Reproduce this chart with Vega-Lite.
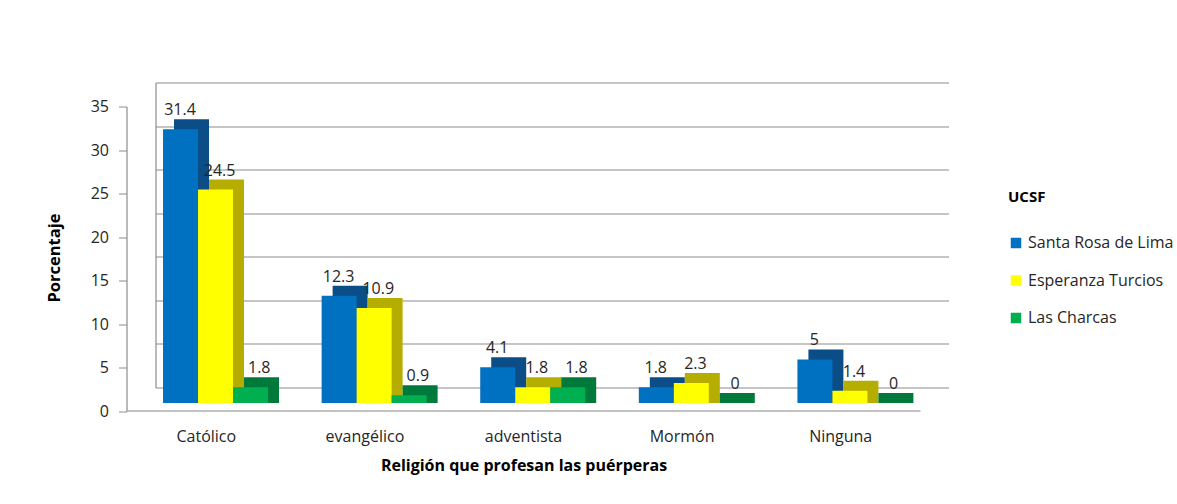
{
  "$schema": "https://vega.github.io/schema/vega-lite/v6.json",
  "width": 793,
  "height": 305,
  "autosize": {"type": "none"},
  "padding": {"left": 127, "top": 54, "right": 257, "bottom": 145},
  "background": "white",
  "config": {"view": {"stroke": null}, "font": "Open Sans"},
  "data": {
    "values": [
      {"religion": "Católico", "ucsf": "Santa Rosa de Lima", "pct": 31.4},
      {"religion": "Católico", "ucsf": "Esperanza Turcios", "pct": 24.5},
      {"religion": "Católico", "ucsf": "Las Charcas", "pct": 1.8},
      {"religion": "evangélico", "ucsf": "Santa Rosa de Lima", "pct": 12.3},
      {"religion": "evangélico", "ucsf": "Esperanza Turcios", "pct": 10.9},
      {"religion": "evangélico", "ucsf": "Las Charcas", "pct": 0.9},
      {"religion": "adventista", "ucsf": "Santa Rosa de Lima", "pct": 4.1},
      {"religion": "adventista", "ucsf": "Esperanza Turcios", "pct": 1.8},
      {"religion": "adventista", "ucsf": "Las Charcas", "pct": 1.8},
      {"religion": "Mormón", "ucsf": "Santa Rosa de Lima", "pct": 1.8},
      {"religion": "Mormón", "ucsf": "Esperanza Turcios", "pct": 2.3},
      {"religion": "Mormón", "ucsf": "Las Charcas", "pct": 0},
      {"religion": "Ninguna", "ucsf": "Santa Rosa de Lima", "pct": 5},
      {"religion": "Ninguna", "ucsf": "Esperanza Turcios", "pct": 1.4},
      {"religion": "Ninguna", "ucsf": "Las Charcas", "pct": 0}
    ]
  },
  "encoding": {
    "x": {"field": "religion", "type": "nominal", "sort": ["Católico", "evangélico", "adventista", "Mormón", "Ninguna"], "scale": {"paddingInner": 0, "paddingOuter": 0},
      "axis": {"orient": "bottom", "offset": 51.5, "translate": 0.5, "domainColor": "#868686", "ticks": false, "labelFontSize": 16, "labelColor": "#262626", "labelPadding": 18, "labelAngle": 0, "title": "Religión que profesan las puérperas", "titleFontSize": 16, "titleFontWeight": "bold", "titleColor": "#000000", "titlePadding": 13}},
    "y": {"field": "pct", "type": "quantitative", "scale": {"domain": [0, 35]}, "axis": null}
  },
  "layer": [
    {
      "mark": {"type": "bar", "yOffset": 34, "y2Offset": 44},
      "encoding": {
        "xOffset": {"field": "ucsf", "type": "nominal", "sort": ["Santa Rosa de Lima", "Esperanza Turcios", "Las Charcas"], "scale": {"paddingInner": 0, "paddingOuter": 0.766, "align": 0.877}},
        "color": {"field": "ucsf", "type": "nominal", "scale": {"domain": ["Santa Rosa de Lima", "Esperanza Turcios", "Las Charcas"], "range": ["#0b4d86", "#b5ae00", "#007a3a"]}, "legend": null},
        "y": {"field": "pct", "type": "quantitative", "scale": {"domain": [0, 35]},
          "axis": {"orient": "right", "offset": -793, "translate": 29, "grid": true, "gridColor": "#8c8c8c", "gridWidth": 1.2, "labels": false, "ticks": false, "domain": true, "domainColor": "#8c8c8c", "domainWidth": 1.2, "title": null, "values": [0, 5, 10, 15, 20, 25, 30, 35]}},
        "y2": {"datum": 0}
      }
    },
    {
      "mark": {"type": "bar", "yOffset": 44, "y2Offset": 44},
      "encoding": {
        "xOffset": {"field": "ucsf", "type": "nominal", "sort": ["Santa Rosa de Lima", "Esperanza Turcios", "Las Charcas"], "scale": {"paddingInner": 0, "paddingOuter": 0.766, "align": 0.672}},
        "color": {"field": "ucsf", "type": "nominal", "sort": ["Santa Rosa de Lima", "Esperanza Turcios", "Las Charcas"], "scale": {"domain": ["Santa Rosa de Lima", "Esperanza Turcios", "Las Charcas"], "range": ["#0070C0", "#FFFF00", "#00B050"]},
          "legend": {"title": "UCSF", "orient": "none", "legendX": 881, "legendY": 136, "symbolType": "square", "symbolSize": 110, "symbolStrokeWidth": 0, "labelFontSize": 16, "titleFontSize": 15, "titleFontWeight": "bold", "rowPadding": 21.5, "titlePadding": 30, "labelColor": "#262626", "titleColor": "#000000", "labelOffset": 4}},
        "y": {"field": "pct", "type": "quantitative", "scale": {"domain": [0, 35]},
          "axis": {"orient": "left", "offset": 53, "translate": 53, "values": [0, 5, 10, 15, 20, 25, 30, 35], "grid": false, "domainColor": "#8c8c8c", "domainWidth": 1.2, "tickColor": "#8c8c8c", "tickSize": 8, "labelFontSize": 16, "labelColor": "#262626", "labelPadding": 10, "title": "Porcentaje", "titleFontSize": 16.5, "titleFontWeight": "bold", "titleColor": "#000000", "titleX": -72, "titleY": 151, "titleBaseline": "middle"}}
      }
    },
    {
      "mark": {"type": "text", "yOffset": 30, "baseline": "alphabetic", "fontSize": 16, "color": "#262626"},
      "encoding": {
        "xOffset": {"field": "ucsf", "type": "nominal", "sort": ["Santa Rosa de Lima", "Esperanza Turcios", "Las Charcas"], "scale": {"paddingOuter": 1, "align": 0.668}},
        "text": {"field": "pct", "type": "nominal"}
      }
    }
  ],
  "resolve": {"scale": {"color": "independent", "xOffset": "independent"}, "axis": {"y": "independent"}}
}
